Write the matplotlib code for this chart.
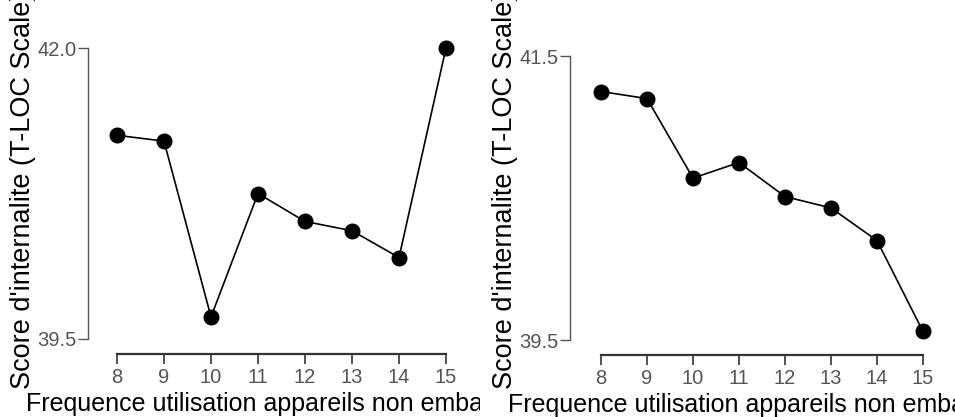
import matplotlib.pyplot as plt
from matplotlib.transforms import Bbox, TransformedBbox

# donnees
frequence = [8, 9, 10, 11, 12, 13, 14, 15]
score_gauche = [41.25, 41.20, 39.69, 40.75, 40.51, 40.43, 40.20, 42.00]
score_droite = [41.25, 41.20, 40.64, 40.75, 40.51, 40.43, 40.20, 39.56]
yticks_gauche = [39.5, 42.0]
yticks_droite = [39.5, 41.5]
xlabel = "Frequence utilisation appareils non embarques"
ylabel = "Score d'internalite (T-LOC Scale)"

plt.rcParams['font.family'] = ['Liberation Sans', 'DejaVu Sans']

W, H = 955, 417
fig = plt.figure(figsize=(W / 100, H / 100), dpi=100)


def panneau(px_gauche, px_droite, px_bas, px_haut, xlim, ylim, y, yticks, clip_x, pos_xlab, pos_ylab):
    '''Cree un axe a partir de positions en pixels'''
    ax = fig.add_axes([px_gauche / W, 1 - px_bas / H,
                       (px_droite - px_gauche) / W, (px_bas - px_haut) / H])
    ax.plot(frequence, y, color='black', lw=1.2, marker='o', ms=10.5, clip_on=False, zorder=3)
    ax.set_xlim(*xlim)
    ax.set_ylim(*ylim)
    ax.set_xticks(frequence)
    ax.set_yticks(yticks)
    ax.set_yticklabels([f'{v:.1f}' for v in yticks])
    for s in ['top', 'right']:
        ax.spines[s].set_visible(False)
    ax.spines['bottom'].set_bounds(frequence[0], frequence[-1])
    ax.spines['left'].set_bounds(yticks[0], yticks[-1])
    ax.spines['bottom'].set_linewidth(1.6)
    ax.spines['bottom'].set_color('#333333')
    ax.spines['left'].set_linewidth(1.0)
    ax.spines['left'].set_color('#555555')
    ax.tick_params(axis='x', length=7, width=1.2, color='#333333', labelsize=14.5,
                   labelcolor='#555555', pad=3)
    ax.tick_params(axis='y', length=7, width=1.0, color='#555555', labelsize=14.5,
                   labelcolor='#555555', pad=1)
    ax.set_xlabel(xlabel, fontsize=18, labelpad=4)
    ax.set_ylabel(ylabel, fontsize=19.5, labelpad=1)
    ax.xaxis.label.set_x(pos_xlab)
    ax.yaxis.label.set_y(pos_ylab)
    # le texte est coupe au bord du panneau
    boite = TransformedBbox(Bbox([[clip_x[0], 0], [clip_x[1], 1]]), fig.transFigure)
    for lab in [ax.xaxis.label, ax.yaxis.label]:
        lab.set_clip_box(boite)
        lab.set_clip_on(True)
    return ax


# panneau gauche : 8 -> 117 px, 15 -> 446 px ; 42.0 -> 48 px, 39.5 -> 339 px
ppx = (446 - 117) / 7
ppy = (339 - 48) / 2.5
panneau(88, 465, 354, 40,
        (8 - (117 - 88) / ppx, 15 + (465 - 446) / ppx),
        (39.5 - (354 - 339) / ppy, 42.0 + (48 - 40) / ppy),
        score_gauche, yticks_gauche, (0, 480 / W), 0.525, 0.522)

# panneau droit : 8 -> 601 px, 15 -> 923 px ; 41.5 -> 56 px, 39.5 -> 340 px
ppx = (923 - 601) / 7
ppy = (340 - 56) / 2.0
panneau(570, 940, 355, 48,
        (8 - (601 - 570) / ppx, 15 + (940 - 923) / ppx),
        (39.5 - (355 - 340) / ppy, 41.5 + (56 - 48) / ppy),
        score_droite, yticks_droite, (480 / W, 1), 0.535, 0.537)

fig.savefig('out.png', dpi=100)
